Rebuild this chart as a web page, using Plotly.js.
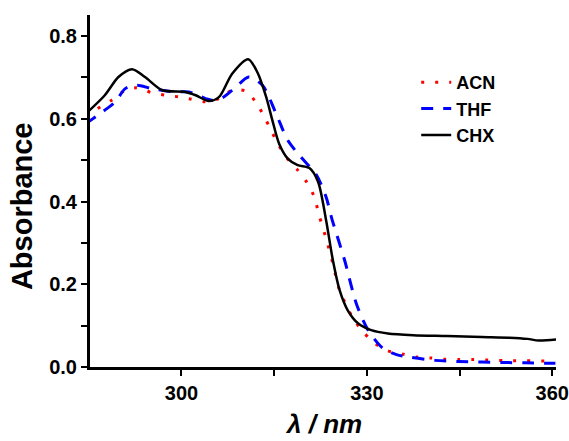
<!DOCTYPE html>
<html>
<head>
<meta charset="utf-8">
<script src="https://cdn.plot.ly/plotly-3.0.1.min.js"></script>
<style>html,body{margin:0;padding:0;background:#fff;}#chart{width:569px;height:441px;}</style>
</head>
<body>
<div id="chart"></div>
<script>
// Wavelength (nm) and absorbance for each solvent
var acnX = [284.5, 286.0, 288.7, 290.9, 292.8, 295.2, 297.4, 299.6, 301.7, 303.9, 306.1, 308.2, 310.4, 312.0, 313.4, 314.5, 315.6, 316.9, 318.8, 320.4, 321.5, 322.3, 323.4, 324.5, 325.6, 327.8, 329.4, 331.3, 333.2, 335.9, 338.0, 340.2, 342.4, 344.7, 346.9, 349.1, 351.2, 353.5, 355.7, 357.8, 360.5];
var acnY = [0.608, 0.621, 0.645, 0.669, 0.675, 0.663, 0.657, 0.653, 0.647, 0.641, 0.649, 0.669, 0.667, 0.641, 0.605, 0.572, 0.540, 0.508, 0.476, 0.444, 0.411, 0.365, 0.311, 0.250, 0.185, 0.117, 0.085, 0.057, 0.040, 0.031, 0.024, 0.022, 0.019, 0.018, 0.018, 0.017, 0.016, 0.015, 0.015, 0.0145, 0.014];

var thfX = [284.5, 287.6, 289.3, 290.9, 292.8, 295.2, 299.0, 301.2, 303.9, 304.9, 306.6, 308.8, 310.9, 313.1, 315.3, 317.2, 319.3, 321.8, 323.4, 324.3, 326.4, 328.3, 330.2, 332.6, 334.8, 336.9, 341.0, 344.8, 348.6, 351.9, 355.7, 360.5];
var thfY = [0.588, 0.621, 0.641, 0.673, 0.681, 0.673, 0.665, 0.665, 0.649, 0.645, 0.651, 0.677, 0.701, 0.681, 0.613, 0.548, 0.508, 0.465, 0.411, 0.360, 0.258, 0.153, 0.089, 0.045, 0.030, 0.024, 0.016, 0.013, 0.012, 0.011, 0.010, 0.009];

var chxX = [284.5, 287.6, 289.8, 292.0, 294.1, 296.9, 300.6, 302.3, 304.4, 306.1, 308.2, 310.8, 312.3, 313.7, 314.7, 315.8, 317.2, 318.8, 320.7, 322.1, 323.4, 324.5, 325.6, 326.9, 328.6, 330.7, 333.4, 337.5, 343.0, 348.6, 353.0, 356.0, 357.8, 361.0];
var chxY = [0.612, 0.657, 0.701, 0.720, 0.701, 0.669, 0.665, 0.657, 0.643, 0.653, 0.709, 0.744, 0.712, 0.653, 0.597, 0.540, 0.504, 0.488, 0.481, 0.448, 0.355, 0.258, 0.185, 0.137, 0.105, 0.089, 0.081, 0.077, 0.075, 0.0726, 0.071, 0.068, 0.064, 0.067];

var seriesNames = ["ACN", "THF", "CHX"];
var xTickVals = [300, 330, 360];
var yTickVals = [0.0, 0.2, 0.4, 0.6, 0.8];
var yTickText = ["0.0", "0.2", "0.4", "0.6", "0.8"];
var xTitle = "λ / nm";
var yTitle = "Absorbance";

var fontFam = "Liberation Sans, Arial, sans-serif";

var traces = [
  {x: acnX, y: acnY, name: seriesNames[0], mode: "lines",
   line: {color: "#ff0000", width: 3, dash: "3px,11px", shape: "spline", smoothing: 0.8}},
  {x: thfX, y: thfY, name: seriesNames[1], mode: "lines",
   line: {color: "#0000ff", width: 3, dash: "12px,10px", shape: "spline", smoothing: 0.8}},
  {x: chxX, y: chxY, name: seriesNames[2], mode: "lines",
   line: {color: "#000000", width: 2.5, shape: "spline", smoothing: 0.8}}
];

var axisCommon = {
  showgrid: false, zeroline: false, showline: true, linecolor: "#000", linewidth: 3,
  ticks: "outside", ticklen: 6, tickwidth: 2, tickcolor: "#000",
  tickfont: {family: fontFam, size: 20, color: "#000", weight: "bold"}
};

var layout = {
  width: 569, height: 441,
  margin: {l: 90, r: 13, t: 15, b: 74},
  paper_bgcolor: "#fff", plot_bgcolor: "#fff",
  showlegend: true,
  legend: {x: 0.70, y: 0.861, xanchor: "left", yanchor: "top", traceorder: "normal",
           bgcolor: "rgba(0,0,0,0)", borderwidth: 0,
           font: {family: fontFam, size: 18, color: "#000", weight: "bold"}},
  xaxis: Object.assign({}, axisCommon, {
    range: [285.2, 360.6], tickmode: "array", tickvals: xTickVals, ticktext: xTickVals.map(String),
    minor: {tickmode: "array", tickvals: [315, 345], ticks: "outside", ticklen: 6, tickwidth: 2, tickcolor: "#000"}
  }),
  yaxis: Object.assign({}, axisCommon, {
    range: [0, 0.851], tickmode: "array", tickvals: yTickVals, ticktext: yTickText,
    minor: {tickmode: "array", tickvals: [0.1, 0.3, 0.5, 0.7], ticks: "outside", ticklen: 6, tickwidth: 2, tickcolor: "#000"}
  }),
  annotations: [
    {text: yTitle, xref: "paper", yref: "paper", x: -0.146, y: 0.457, xanchor: "center", yanchor: "middle",
     textangle: -90, showarrow: false, font: {family: fontFam, size: 29, color: "#000", weight: "bold"}},
    {text: xTitle, xref: "paper", yref: "paper", x: 0.5, y: -0.163, xanchor: "center", yanchor: "middle",
     showarrow: false, borderpad: 0, font: {family: fontFam, size: 26, color: "#000", weight: "bold", style: "italic"}}
  ]
};

Plotly.newPlot("chart", traces, layout, {staticPlot: true, displayModeBar: false});
</script>
</body>
</html>
